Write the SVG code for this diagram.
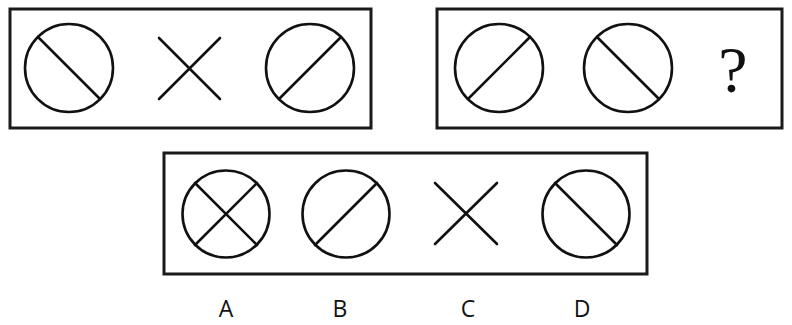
<svg xmlns="http://www.w3.org/2000/svg" width="792" height="325" viewBox="0 0 792 325">
<style>
.box{fill:none;stroke:#1a1a1a;stroke-width:3}
.sh{fill:none;stroke:#111;stroke-width:2.6;stroke-linecap:round}
.lbl{font-family:"Open Sans","Liberation Sans",Arial,sans-serif;font-size:23px;fill:#111;text-anchor:middle}
.q{font-family:"Liberation Serif","Times New Roman",serif;font-size:66px;fill:#111;text-anchor:middle}
</style>
<rect width="792" height="325" fill="#fff"/>
<g id="box1">
<rect class="box" x="10" y="9" width="361" height="119"/>
<circle class="sh" cx="69" cy="68" r="44"/>
<line class="sh" x1="38" y1="37" x2="100" y2="99"/>
<line class="sh" x1="159" y1="38" x2="220" y2="99"/>
<line class="sh" x1="220" y1="38" x2="159" y2="99"/>
<circle class="sh" cx="310" cy="68" r="44"/>
<line class="sh" x1="279" y1="99" x2="341" y2="37"/>
</g>
<g id="box2">
<rect class="box" x="437" y="9" width="345" height="119"/>
<circle class="sh" cx="499" cy="68" r="44"/>
<line class="sh" x1="468" y1="99" x2="530" y2="37"/>
<circle class="sh" cx="628" cy="68" r="44"/>
<line class="sh" x1="597" y1="37" x2="659" y2="99"/>
<text class="q" x="733" y="92">?</text>
</g>
<g id="options">
<rect class="box" x="164" y="153" width="483" height="121"/>
<circle class="sh" cx="226" cy="214" r="43.5"/>
<line class="sh" x1="195" y1="183" x2="257" y2="245"/>
<line class="sh" x1="257" y1="183" x2="195" y2="245"/>
<circle class="sh" cx="346" cy="214" r="43.5"/>
<line class="sh" x1="315" y1="245" x2="377" y2="183"/>
<line class="sh" x1="435" y1="183" x2="497" y2="244"/>
<line class="sh" x1="497" y1="183" x2="435" y2="244"/>
<circle class="sh" cx="586" cy="214" r="43.5"/>
<line class="sh" x1="555" y1="183" x2="617" y2="245"/>
</g>
<g id="labels">
<text class="lbl" x="226" y="317">A</text>
<text class="lbl" x="340" y="317">B</text>
<text class="lbl" x="468" y="317">C</text>
<text class="lbl" x="582" y="317">D</text>
</g>
</svg>
